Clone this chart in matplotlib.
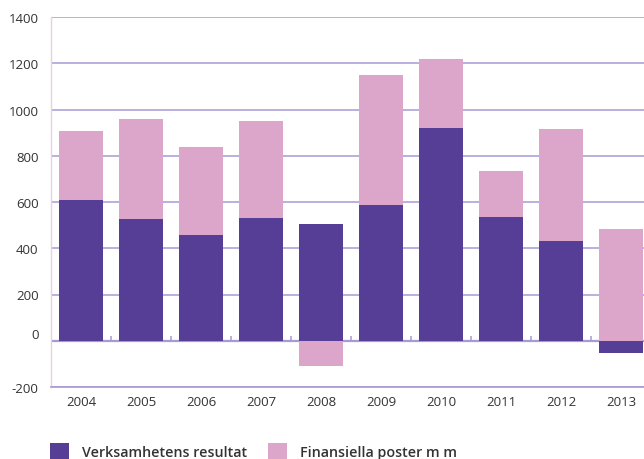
import numpy as np
import matplotlib.pyplot as plt
from matplotlib.transforms import ScaledTranslation

years = ["2004", "2005", "2006", "2007", "2008", "2009", "2010", "2011", "2012", "2013"]
verksamhet = [609, 527, 458, 532, 506, 588, 921, 536, 432, -54]
finansiella = [298, 433, 380, 419, -111, 562, 298, 199, 484, 484]
yticks = [-200, 0, 200, 400, 600, 800, 1000, 1200, 1400]

dark = "#563d96"
pink = "#dca6cb"
grid_col = "#a899d4"
text_col = "#333333"

plt.rcParams["font.family"] = ["Open Sans", "DejaVu Sans"]

fig = plt.figure(figsize=(6.44, 4.60), dpi=100)
ax = fig.add_axes([51 / 644, 72 / 460, 600 / 644, 370 / 460])

x = np.arange(len(years))
verk = np.array(verksamhet)
fin = np.array(finansiella)
# stack pink on top of positive dark bars, from zero otherwise
fin_base = np.where((fin > 0) & (verk > 0), verk, 0)

ax.bar(x, verk, width=0.72, color=dark, zorder=3, label="Verksamhetens resultat")
ax.bar(x, fin, bottom=fin_base, width=0.72, color=pink, zorder=3, label="Finansiella poster m m")

ax.set_xlim(-0.5, len(years) - 0.5)
ax.set_ylim(-200, 1400)
ax.set_yticks(yticks)
ax.set_yticklabels([str(v) for v in yticks])
ax.set_xticks(x)
ax.set_xticklabels(years)
ax.tick_params(axis="both", length=0, colors=text_col, labelsize=9.5)
ax.tick_params(axis="y", pad=9)
ax.tick_params(axis="x", pad=6)

# the "0" label sits a little above the zero line
for lab in ax.get_yticklabels():
    if lab.get_text() == "0":
        lab.set_transform(lab.get_transform() + ScaledTranslation(0, 8 / 100, fig.dpi_scale_trans))

ax.yaxis.grid(True, color=grid_col, linewidth=1.1, zorder=0)
ax.axhline(0, color=grid_col, linewidth=1.6, zorder=2)
# small category separators on the zero line
ax.vlines(x[:-1] + 0.5, 0, 19, color=grid_col, linewidth=1.1, zorder=2)

for s in ["top", "right"]:
    ax.spines[s].set_visible(False)
ax.spines["bottom"].set_color(grid_col)
ax.spines["bottom"].set_linewidth(1.2)
ax.spines["left"].set_color("#ead0e4")
ax.spines["left"].set_linewidth(1)

fig.legend(loc="upper left", bbox_to_anchor=(50 / 644, 16 / 460), ncol=2, frameon=False,
           handlelength=1.3, handleheight=1.3, handletextpad=0.95, columnspacing=1.45,
           borderpad=0, borderaxespad=0, prop={"size": 10.3, "weight": "semibold"},
           labelcolor=text_col)

fig.savefig("out.png", dpi=100)
